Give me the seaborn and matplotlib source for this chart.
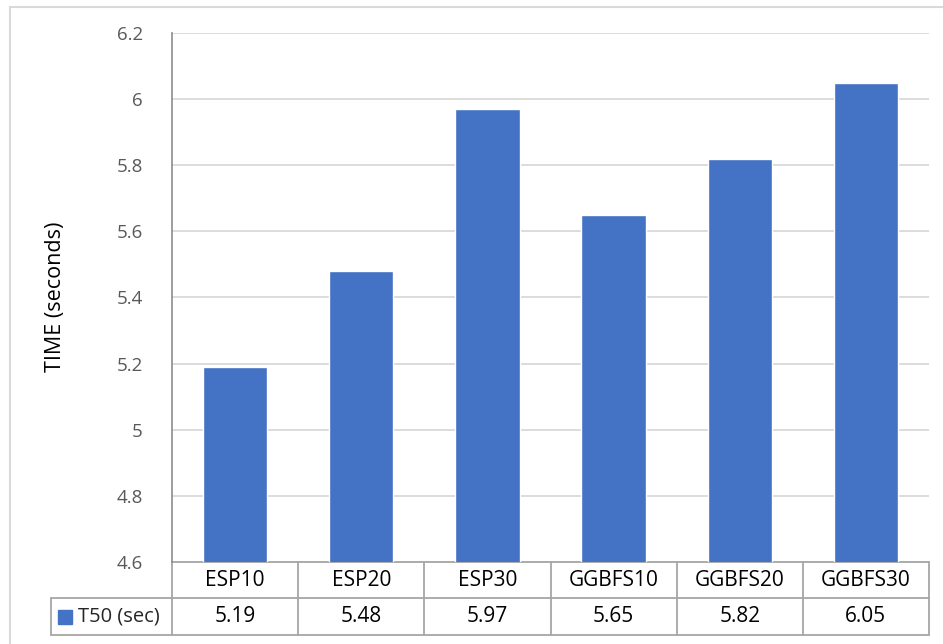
import matplotlib
matplotlib.use("Agg")
import matplotlib.pyplot as plt
from matplotlib.patches import Rectangle
import seaborn as sns
import pandas as pd

mixes = ["ESP10", "ESP20", "ESP30", "GGBFS10", "GGBFS20", "GGBFS30"]
t50 = [5.19, 5.48, 5.97, 5.65, 5.82, 6.05]
series_name = "T50 (sec)"
y_ticks = [4.6, 4.8, 5.0, 5.2, 5.4, 5.6, 5.8, 6.0, 6.2]
y_tick_labels = ["4.6", "4.8", "5", "5.2", "5.4", "5.6", "5.8", "6", "6.2"]

bar_color = "#4472C4"
grid_color = "#D9D9D9"
table_color = "#A6A6A6"
tick_color = "#595959"

sns.set_theme(style="white")
plt.rcParams["font.family"] = ["Open Sans", "DejaVu Sans"]

W, H = 943, 644
fig = plt.figure(figsize=(W / 100, H / 100), dpi=100)

# plot area in pixel coordinates
px_left, px_right, px_top, px_bottom = 172, 929, 33, 562
pw, ph = px_right - px_left, px_bottom - px_top
ax = fig.add_axes([px_left / W, 1 - px_bottom / H, pw / W, ph / H])

df = pd.DataFrame({"mix": mixes, "t50": t50})
sns.barplot(data=df, x="mix", y="t50", color=bar_color, saturation=1,
            width=0.51, ax=ax, zorder=3)

ax.set_ylim(4.6, 6.2)
ax.set_xlim(-0.5, len(mixes) - 0.5)
ax.set_yticks(y_ticks)
ax.set_yticklabels(y_tick_labels, color=tick_color, fontsize=13.5)
ax.tick_params(axis="y", length=0, pad=21)
ax.set_xticks([])
ax.set_xlabel("")
ax.set_ylabel("")
fig.text(56 / W, 1 - 297 / H, "TIME (seconds)", rotation=90, ha="center",
         va="center", fontsize=15.5, color="black")
for y in y_ticks:
    ax.axhline(y, color=grid_color, lw=1.3, zorder=1)
for s in ["top", "right", "bottom"]:
    ax.spines[s].set_visible(False)
ax.spines["left"].set_color("#8C8C8C")
ax.spines["left"].set_linewidth(1.2)

# data table below the plot
row1 = (598 - px_bottom) / ph
row2 = (635 - px_bottom) / ph
x_tab_left = -(px_left - 51) / pw
lkw = dict(color=table_color, lw=1.3, clip_on=False, transform=ax.transAxes)
ax.plot([0, 1], [0, 0], **lkw)
ax.plot([x_tab_left, 1], [-row1, -row1], **lkw)
ax.plot([x_tab_left, 1], [-row2, -row2], **lkw)
ax.plot([x_tab_left, x_tab_left], [-row1, -row2], **lkw)
ax.plot([0, 0], [0, -row2], **lkw)
ax.plot([1, 1], [0, -row2], **lkw)
xt = ax.get_xaxis_transform()
for i in range(len(mixes) - 1):
    ax.plot([i + 0.5, i + 0.5], [0, -row2], color=table_color, lw=1.3,
            clip_on=False, transform=xt)
for i, (m, v) in enumerate(zip(mixes, t50)):
    ax.text(i, -row1 / 2, m, transform=xt, ha="center", va="center",
            fontsize=15, color="black")
    ax.text(i, -(row1 + row2) / 2, f"{v:.2f}", transform=xt, ha="center",
            va="center", fontsize=15, color="black")

# legend key in the table
ymid = -(row1 + row2) / 2
key_w = 14 / pw
key_h = 14 / ph
key_x = (58 - px_left) / pw
ax.add_patch(Rectangle((key_x, ymid - key_h / 2), key_w, key_h,
                       transform=ax.transAxes, color=bar_color, clip_on=False))
ax.text((78 - px_left) / pw, ymid, series_name,
        transform=ax.transAxes, ha="left", va="center", fontsize=14.5)

# chart border
fig.patches.append(Rectangle((10 / W, -0.01), 1.0, 1 - 7 / H + 0.01,
                             transform=fig.transFigure, fill=False,
                             edgecolor="#D9D9D9", lw=1.5))

fig.savefig("out.png", dpi=100)
